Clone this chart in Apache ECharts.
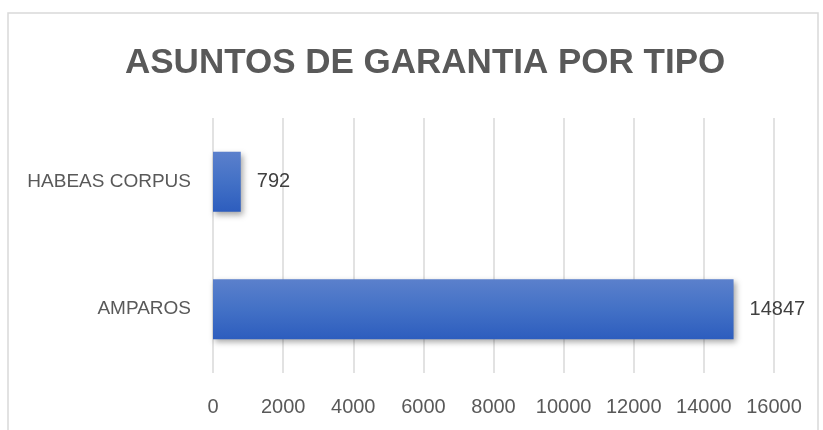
<!DOCTYPE html>
<html>
<head>
<meta charset="utf-8">
<script src="https://cdn.jsdelivr.net/npm/echarts@6/dist/echarts.min.js"></script>
<style>
  html, body { margin: 0; padding: 0; background: #fff; }
  #chart { width: 823px; height: 430px; }
</style>
</head>
<body>
<div id="chart"></div>
<script>
  // datos
  const categorias = ['AMPAROS', 'HABEAS CORPUS'];
  const valores = [14847, 792];
  const titulo = 'ASUNTOS DE GARANTIA POR TIPO';

  const chart = echarts.init(document.getElementById('chart'));
  const option = {
    animation: false,
    backgroundColor: '#ffffff',
    title: {
      text: titulo,
      left: 120,
      top: 41,
      textStyle: {
        fontFamily: 'Liberation Sans, sans-serif',
        fontWeight: 'bold',
        fontSize: 35,
        color: '#595959'
      }
    },
    graphic: [{
      type: 'rect',
      shape: {x: 8, y: 13, width: 810, height: 440},
      style: {fill: 'none', stroke: '#d9d9d9', lineWidth: 1.5},
      silent: true
    }],
    grid: {left: 213, right: 49, top: 118, bottom: 57},
    xAxis: {
      type: 'value',
      min: 0,
      max: 16000,
      interval: 2000,
      axisLine: {show: false},
      axisTick: {show: false},
      axisLabel: {
        margin: 24,
        fontFamily: 'Liberation Sans, sans-serif',
        fontSize: 20,
        color: '#595959',
        formatter: function (v) { return String(v); }
      },
      splitLine: {lineStyle: {color: '#d9d9d9', width: 1.5}}
    },
    yAxis: {
      type: 'category',
      data: categorias,
      axisLine: {show: false},
      axisTick: {show: false},
      axisLabel: {
        margin: 22,
        fontFamily: 'Liberation Sans, sans-serif',
        fontSize: 19,
        color: '#595959'
      }
    },
    series: [{
      type: 'bar',
      data: valores,
      barWidth: '47%',
      itemStyle: {
        color: new echarts.graphic.LinearGradient(0, 0, 0, 1, [
          {offset: 0, color: '#5b80cc'},
          {offset: 0.5, color: '#4371c6'},
          {offset: 1, color: '#2d5dbe'}
        ]),
        shadowColor: 'rgba(0,0,0,0.35)',
        shadowBlur: 6,
        shadowOffsetX: 2,
        shadowOffsetY: 3
      },
      label: {
        show: true,
        position: 'right',
        distance: 16,
        fontFamily: 'Liberation Sans, sans-serif',
        fontSize: 20,
        color: '#404040'
      }
    }]
  };
  chart.setOption(option);
</script>
</body>
</html>
